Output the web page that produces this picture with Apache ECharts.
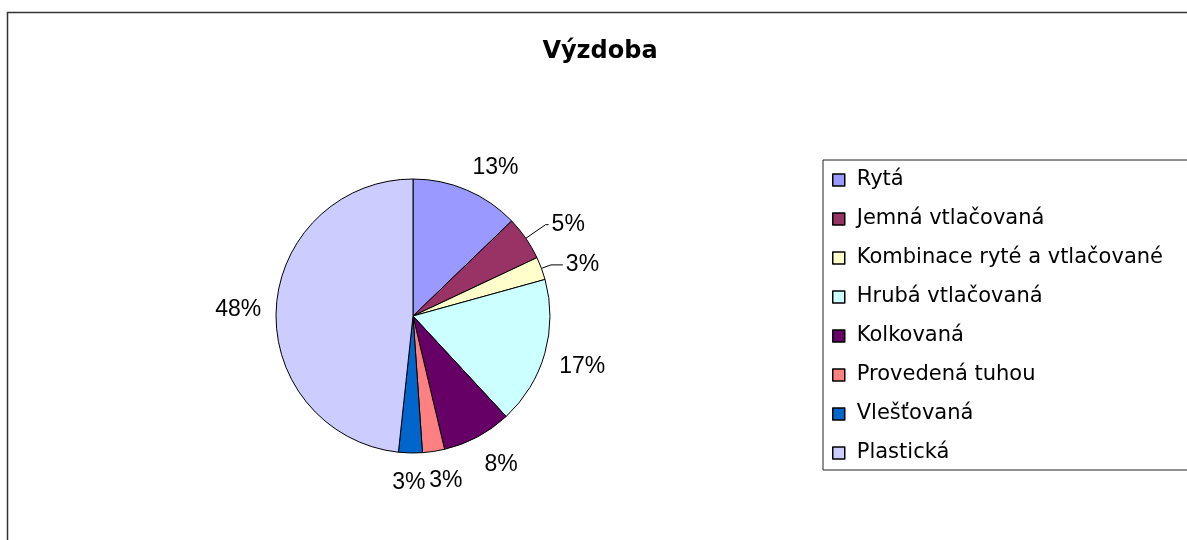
<!DOCTYPE html>
<html>
<head>
<meta charset="utf-8">
<script src="https://cdn.jsdelivr.net/npm/echarts@6/dist/echarts.min.js"></script>
<style>
  html, body { margin: 0; padding: 0; background: #fff; }
  #chart { width: 1187px; height: 540px; }
</style>
</head>
<body>
<div id="chart"></div>
<script>
// categories and shares
const categories = [
  'Rytá',
  'Jemná vtlačovaná',
  'Kombinace ryté a vtlačované',
  'Hrubá vtlačovaná',
  'Kolkovaná',
  'Provedená tuhou',
  'Vlešťovaná',
  'Plastická'
]
const values = [12.8, 5.2, 2.7, 17.4, 8.2, 2.6, 2.8, 48.3]
const colors = ['#9999FF', '#993366', '#FFFFCC', '#CCFFFF', '#660066', '#FF8080', '#0066CC', '#CCCCFF']
// slices whose label is pulled out with a leader line
const leaderLines = [false, true, true, false, false, false, false, false]
const lineLengths = [[15, 0], [24, 3], [10, 12], [15, 0], [15, 0], [15, 0], [15, 0], [15, 0]]

const font = '"Liberation Sans", Arial, sans-serif'
const wideFont = '"DejaVu Sans", Verdana, sans-serif'
const pct = p => Math.round(p.percent) + '%'
const clamp = v => Math.max(-1, Math.min(1, v))

const chart = echarts.init(document.getElementById('chart'), null, { renderer: 'canvas' })

const pieData = categories.map((name, i) => ({
  name: name,
  value: values[i],
  itemStyle: { color: colors[i] },
  labelLine: {
    show: true,
    length: lineLengths[i][0],
    length2: lineLengths[i][1],
    lineStyle: { opacity: leaderLines[i] ? 1 : 0 }
  }
}))

// Excel style: the label box touches the anchor point instead of hanging off it
function placeLabel(p) {
  if (leaderLines[p.dataIndex] || !p.labelLinePoints) return {}
  const pts = p.labelLinePoints
  const dx = pts[1][0] - pts[0][0]
  const dy = pts[1][1] - pts[0][1]
  const len = Math.hypot(dx, dy) || 1
  const r = p.labelRect
  const cx = pts[1][0] + clamp(4 * dx / len) * r.width / 2
  const cy = pts[1][1] + clamp(2 * dy / len) * r.height / 2 + 3
  let align = p.align
  if (!align) {
    if (r.x >= pts[2][0] - 1) align = 'left'
    else if (r.x + r.width <= pts[2][0] + 1) align = 'right'
    else align = 'center'
  }
  const x = align === 'left' ? cx - r.width / 2 : align === 'right' ? cx + r.width / 2 : cx
  const vAlign = p.verticalAlign || 'middle'
  const y = vAlign === 'top' ? cy - r.height / 2 : vAlign === 'bottom' ? cy + r.height / 2 : cy
  return { x: x, y: y }
}

chart.setOption({
  animation: false,
  backgroundColor: '#fff',
  title: {
    text: 'Výzdoba',
    left: 595,
    top: 35,
    textAlign: 'center',
    textStyle: { fontFamily: wideFont, fontSize: 24, fontWeight: 'bold', color: '#000' }
  },
  graphic: [{
    type: 'rect',
    shape: { x: 7.5, y: 12.5, width: 1200, height: 600 },
    style: { fill: 'none', stroke: '#333', lineWidth: 1.5 },
    z: -1
  }],
  legend: {
    orient: 'vertical',
    left: 823,
    top: 160,
    padding: [9, 200, 6, 9],
    borderColor: '#222',
    borderWidth: 1,
    itemWidth: 12,
    itemHeight: 12,
    itemGap: 17,
    icon: 'rect',
    itemStyle: { borderColor: '#000', borderWidth: 1.5 },
    textStyle: { fontFamily: wideFont, fontSize: 21, lineHeight: 22, color: '#000', padding: [0, 0, 0, 7] },
    data: categories
  },
  series: [{
    type: 'pie',
    center: [413, 316],
    radius: 137,
    startAngle: 90,
    clockwise: true,
    avoidLabelOverlap: false,
    itemStyle: { borderColor: '#000', borderWidth: 1 },
    label: {
      position: 'outside',
      fontFamily: font,
      fontSize: 23,
      color: '#000',
      distanceToLabelLine: 3,
      formatter: pct
    },
    labelLine: { lineStyle: { color: '#000', width: 1 } },
    labelLayout: placeLabel,
    emphasis: { disabled: true },
    data: pieData
  }]
})
</script>
</body>
</html>
